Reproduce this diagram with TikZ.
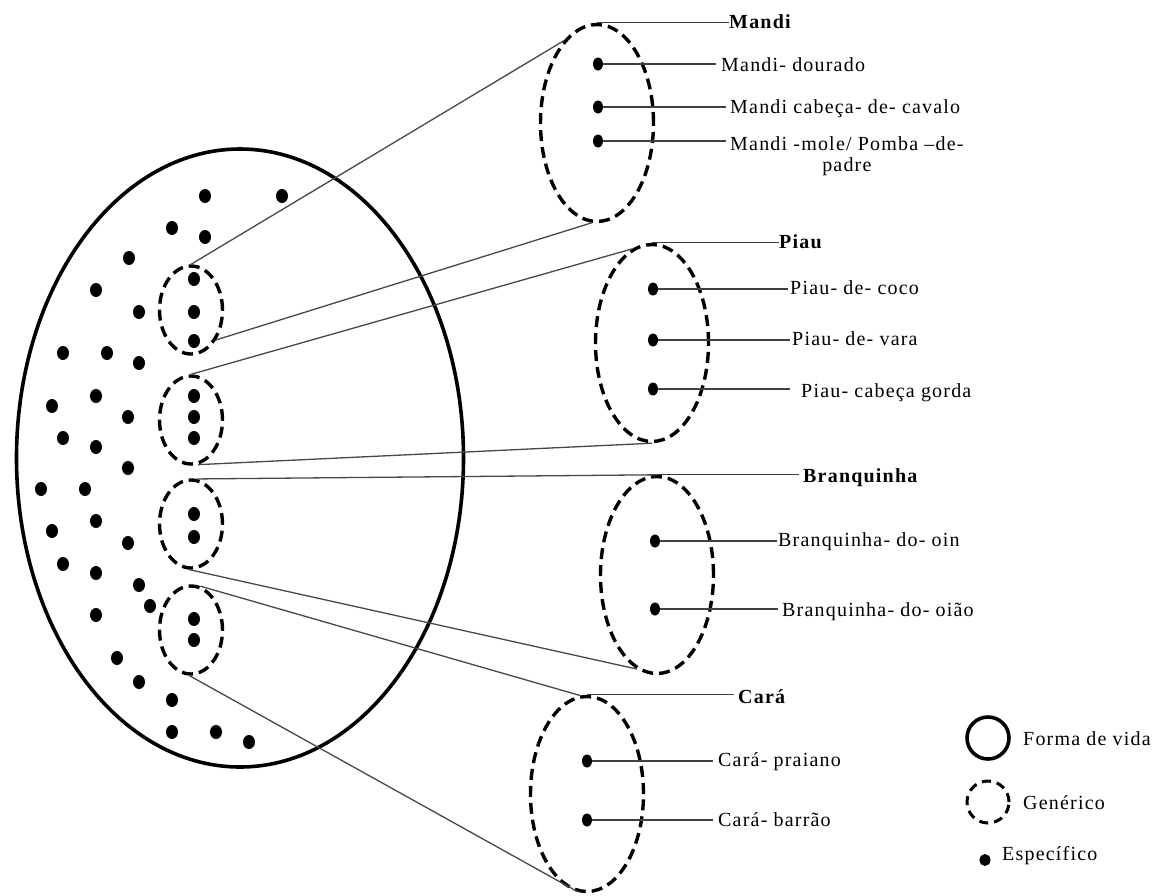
\documentclass[tikz,border=0pt]{standalone}
\usepackage{fontspec}
\setmainfont{Liberation Serif}[LetterSpace=6]
\usetikzlibrary{shapes.geometric}
\begin{document}
\begin{tikzpicture}[x=1pt,y=-1pt,
  every node/.style={font=\fontsize{20}{21}\selectfont},
  lifeform/.style={draw, line width=3.6pt, ellipse, inner sep=0pt},
  genus/.style={draw, line width=3.4pt, dash pattern=on 11pt off 6pt, ellipse, inner sep=0pt},
  smallgen/.style={genus, minimum width=63pt, minimum height=88pt},
  biggen/.style={genus, minimum width=113pt, minimum height=197pt},
  spot/.style={fill, ellipse, inner sep=0pt, minimum width=12pt, minimum height=14pt},
  rspot/.style={fill, ellipse, inner sep=0pt, minimum width=10pt, minimum height=13pt},
  conn/.style={draw=black!72, line width=1.3pt},
  lead/.style={draw=black!75, line width=1.3pt},
  txt/.style={anchor=base west, inner sep=0pt},
  gname/.style={txt, font=\fontsize{20}{21}\selectfont\bfseries}
]
\useasboundingbox (0,0) rectangle (1162,895);

% life form
\node[lifeform, minimum width=447pt, minimum height=618pt] (life) at (240,458) {};

% scattered specific dots
\foreach \x/\y [count=\i] in {205/196,282/196,172/228,205/237,129/258,96/290,139/312,
  63/353,107/353,139/363,96/396,52/406,128/417,63/438,96/447,128/468,41/489,85/489,
  96/521,52/531,128/543,63/564,96/573,139/585,150/606,96/615,117/658,139/682,172/700,
  172/732,216/732,249/742}
  \node[spot] (p\i) at (\x,\y) {};

% small generic ellipses
\node[smallgen] (s1) at (191,310) {};
\node[smallgen] (s2) at (191,420) {};
\node[smallgen] (s3) at (191,524) {};
\node[smallgen] (s4) at (191,630) {};
\foreach \n/\y in {a/279,b/312,c/341} \node[spot] (s1\n) at (194,\y) {};
\foreach \n/\y in {a/396,b/417,c/438} \node[spot] (s2\n) at (194,\y) {};
\foreach \n/\y in {a/514,b/537} \node[spot] (s3\n) at (194,\y) {};
\foreach \n/\y in {a/619,b/640} \node[spot] (s4\n) at (194,\y) {};

% big generic ellipses
\node[biggen] (gM) at (597,123) {};
\node[biggen] (gP) at (652,343) {};
\node[biggen] (gB) at (657,575) {};
\node[biggen, minimum height=195pt] (gC) at (587,794) {};

% connectors from small to big generic
\draw[conn] (s1.north) -- (gM.112);
\draw[conn] (s1.310) -- (gM.267);
\draw[conn] (s2.north) -- (gP.102);
\draw[conn] (s2.279) -- (gP.south);
\draw[conn] (s3.83) -- (gB.north);
\draw[conn] (s3.268) -- (gB.258);
\draw[conn] (s4.78) -- (gC.94);
\draw[conn] (s4.268) -- (gC.265);

% generic names
\node[gname] (nM) at (729,28) {Mandi};
\node[gname] (nP) at (779,248) {Piau};
\node[gname] (nB) at (803,482) {Branquinha};
\node[gname] (nC) at (738,703) {Cará};
\draw[lead] (gM.north) -- (gM.north -| nM.west);
\draw[lead] (gP.north) -- (gP.north -| nP.west);
\draw[lead] (gB.north) -- ([xshift=-4pt]gB.north -| nB.west);
\draw[lead] (gC.north) -- ([xshift=-4pt]gC.north -| nC.west);

% Mandi species
\node[rspot] (m1) at (598,64) {};
\node[rspot] (m2) at (598,107) {};
\node[rspot] (m3) at (598,141) {};
\node[txt] (tm1) at (721,71) {Mandi- dourado};
\node[txt] (tm2) at (730,113) {Mandi cabeça- de- cavalo};
\node[anchor=north west, inner sep=0pt, align=center] (tm3) at (730,136) {Mandi -mole/ Pomba –de-\\padre};
\draw[lead] (m1) -- ([xshift=-5pt]m1 -| tm1.west);
\draw[lead] (m2) -- ([xshift=-4pt]m2 -| tm2.west);
\draw[lead] (m3) -- ([xshift=-4pt]m3 -| tm3.west);

% Piau species
\node[rspot] (q1) at (653,289) {};
\node[rspot] (q2) at (653,340) {};
\node[rspot] (q3) at (653,389) {};
\node[txt] (tq1) at (790,294) {Piau- de- coco};
\node[txt] (tq2) at (792,345) {Piau- de- vara};
\node[txt] (tq3) at (801,397) {Piau- cabeça gorda};
\draw[lead] (q1) -- ([xshift=-2pt]q1 -| tq1.west);
\draw[lead] (q2) -- ([xshift=-2pt]q2 -| tq2.west);
\draw[lead] (q3) -- ([xshift=-11pt]q3 -| tq3.west);

% Branquinha species
\node[rspot] (b1) at (655,541) {};
\node[rspot] (b2) at (655,609) {};
\node[txt] (tb1) at (778,546) {Branquinha- do- oin};
\node[txt] (tb2) at (782,616) {Branquinha- do- oião};
\draw[lead] (b1) -- ([xshift=-1pt]b1 -| tb1.west);
\draw[lead] (b2) -- ([xshift=-4pt]b2 -| tb2.west);

% Cara species
\node[rspot] (c1) at (587,761) {};
\node[rspot] (c2) at (587,820) {};
\node[txt] (tc1) at (718,766) {Cará- praiano};
\node[txt] (tc2) at (718,826) {Cará- barrão};
\draw[lead] (c1) -- ([xshift=-5pt]c1 -| tc1.west);
\draw[lead] (c2) -- ([xshift=-5pt]c2 -| tc2.west);

% legend
\node[lifeform, circle, minimum size=42pt] (lg1) at (988,738) {};
\node[txt] (lt1) at (1023,745) {Forma de vida};
\node[genus, circle, line width=3pt, dash pattern=on 9pt off 6pt, minimum size=42pt] (lg2) at (988,802) {};
\node[txt] (lt2) at (1023,809) {Genérico};
\node[spot, minimum width=11pt, minimum height=12pt] (lg3) at (985,860) {};
\node[txt] (lt3) at (1002,860) {Específico};
\end{tikzpicture}
\end{document}
